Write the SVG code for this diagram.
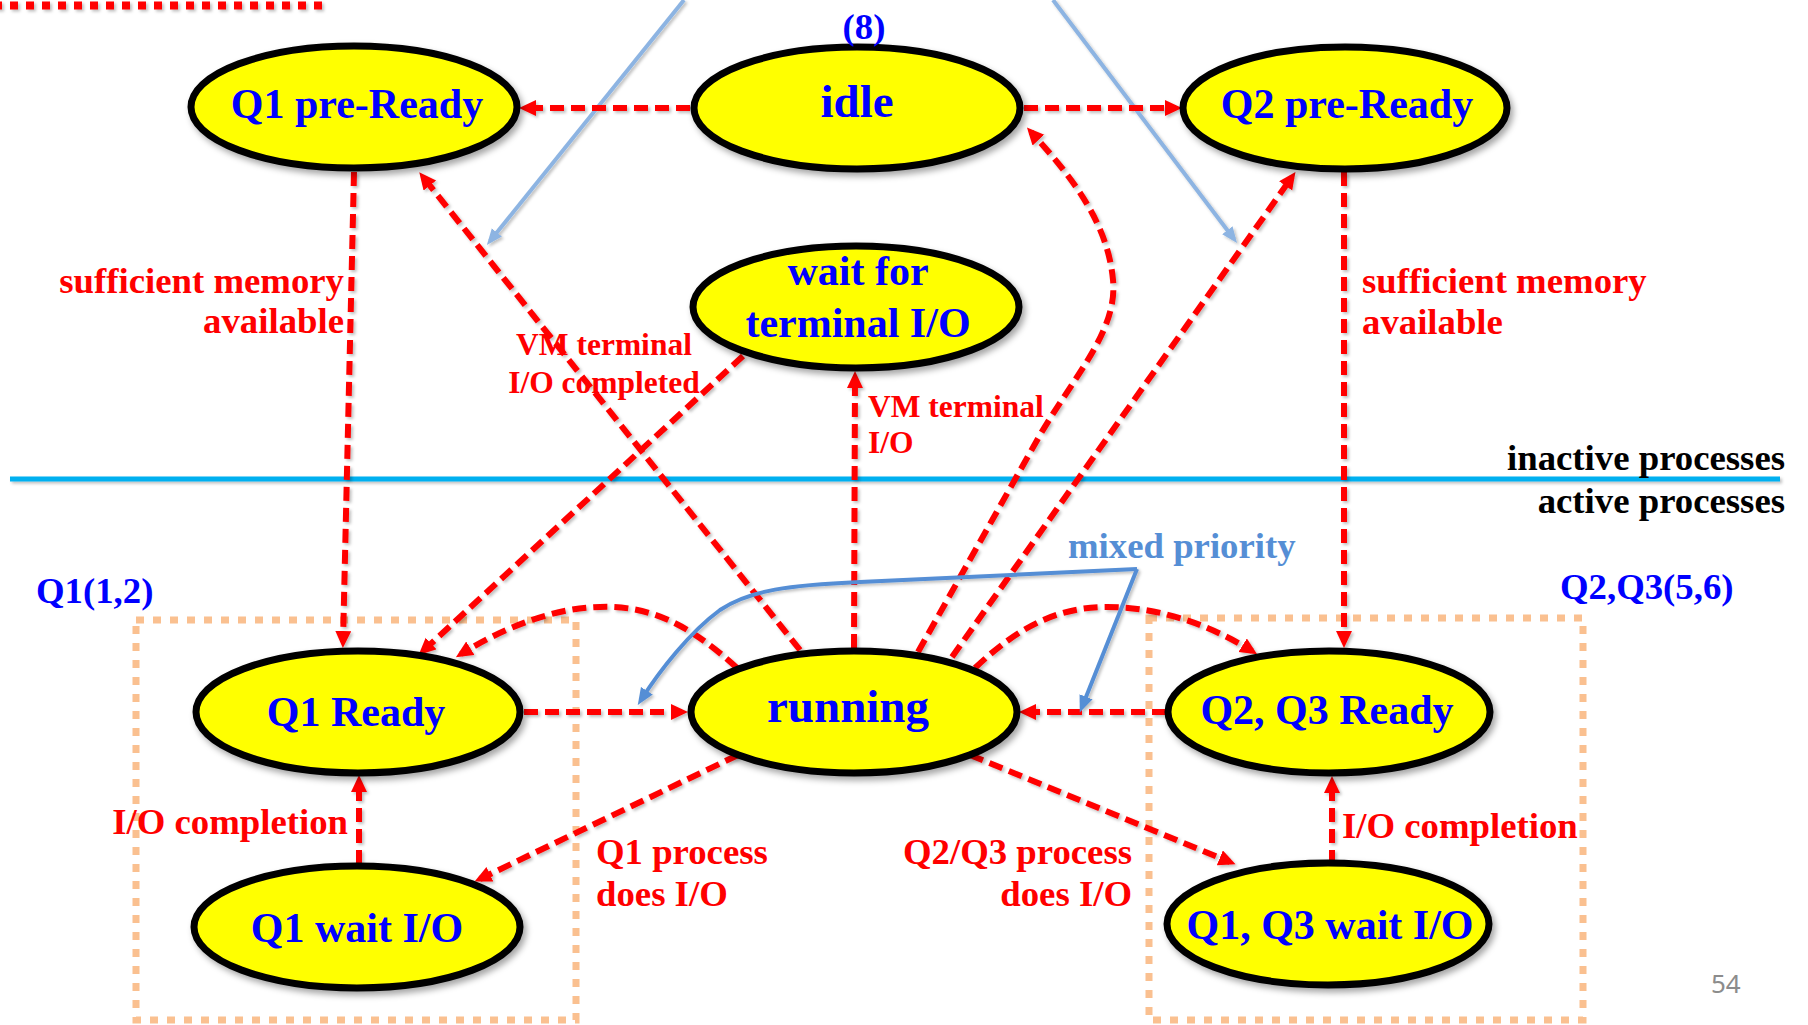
<svg xmlns="http://www.w3.org/2000/svg" width="1808" height="1025" viewBox="0 0 1808 1025">
  <defs>
    <filter id="shadow" x="-20%" y="-20%" width="140%" height="150%">
      <feDropShadow dx="3" dy="4" stdDeviation="3" flood-color="#000" flood-opacity="0.35"/>
    </filter>
    <filter id="lineShadow" filterUnits="userSpaceOnUse" x="-20" y="-20" width="1850" height="1070">
      <feDropShadow dx="2" dy="2" stdDeviation="1.5" flood-color="#000" flood-opacity="0.25"/>
    </filter>
    <marker id="redArrow" markerUnits="userSpaceOnUse" markerWidth="18" markerHeight="17" refX="11" refY="8" orient="auto">
      <path d="M0,0 L17,8 L0,16 z" fill="#ff0000"/>
    </marker>
    <marker id="lightBlueArrow" markerUnits="userSpaceOnUse" markerWidth="18" markerHeight="14" refX="11" refY="6.5" orient="auto">
      <path d="M0,0 L16,6.5 L0,13 z" fill="#8db4e2"/>
    </marker>
    <marker id="blueArrow" markerUnits="userSpaceOnUse" markerWidth="18" markerHeight="15" refX="11" refY="7" orient="auto">
      <path d="M0,0 L17,7 L0,14 z" fill="#558ed5"/>
    </marker>
    <style>
      .node ellipse { fill: #ffff00; stroke: #000; stroke-width: 7; filter: url(#shadow); }
      .node text { font-family: "Liberation Serif", "Times New Roman", serif; font-weight: bold; font-size: 42px; fill: #0000ff; text-anchor: middle; }
      .node text.big { font-size: 47px; }
      .edge { fill: none; stroke: #ff0000; stroke-width: 6; stroke-dasharray: 14 7; }
      .edge.arrow { marker-end: url(#redArrow); }
      .hint { fill: none; stroke: #8db4e2; stroke-width: 4; marker-end: url(#lightBlueArrow); }
      .mix { fill: none; stroke: #558ed5; stroke-width: 4; }
      .lbl { font-family: "Liberation Serif", "Times New Roman", serif; font-weight: bold; font-size: 36.75px; fill: #ff0000; }
      .lbl.small { font-size: 31.5px; }
      .grp { font-family: "Liberation Serif", "Times New Roman", serif; font-weight: bold; font-size: 36.75px; fill: #0000ff; }
      .zone { font-family: "Liberation Serif", "Times New Roman", serif; font-weight: bold; font-size: 36.75px; fill: #000; text-anchor: end; }
      .box { fill: none; stroke: #fac090; stroke-width: 7; stroke-dasharray: 8 9; }
    </style>
  </defs>

  <rect width="1808" height="1025" fill="#ffffff"/>

  <!-- partial red dotted frame edge, top left -->
  <line x1="-6" y1="5.5" x2="322" y2="5.5" stroke="#ff0000" stroke-width="8" stroke-dasharray="8 8" filter="url(#lineShadow)"/>

  <!-- queue group frames -->
  <g id="frames">
    <rect class="box" x="136" y="620" width="440" height="400"/>
    <rect class="box" x="1149" y="618" width="434" height="402"/>
  </g>

  <!-- inactive / active separator -->
  <line x1="10" y1="479" x2="1780" y2="479" stroke="#00b0f0" stroke-width="5" filter="url(#lineShadow)"/>

  <!-- transitions -->
  <g id="connectors" filter="url(#lineShadow)">
    <path class="hint" d="M684,0 L490,241"/>
    <path class="hint" d="M1053,0 L1234,239"/>

    <path class="edge arrow" d="M690,108 L525,108"/>
    <path class="edge arrow" d="M1024,108 L1176,108"/>
    <path class="edge arrow" d="M354,172 L343,642"/>
    <path class="edge arrow" d="M1344,172 L1344,642"/>
    <path class="edge arrow" d="M800,650 L423,177"/>
    <path class="edge arrow" d="M743,356 L423,651"/>
    <path class="edge arrow" d="M854,648 L855,377"/>
    <path class="edge arrow" d="M918,652 L1040,435 C1075,375 1118,330 1113,280 C1108,225 1075,180 1031,132"/>
    <path class="edge arrow" d="M952,657 L1292,177"/>
    <path class="edge arrow" d="M737,668 C690,625 650,605 600,607 C550,608 500,630 461,654"/>
    <path class="edge arrow" d="M975,668 C1020,625 1060,607 1107,607 C1160,607 1210,625 1252,651"/>
    <path class="edge arrow" d="M524,712 L682,712"/>
    <path class="edge arrow" d="M1166,712 L1025,712"/>
    <path class="edge arrow" d="M738,755 L480,879"/>
    <path class="edge arrow" d="M970,755 L1230,862"/>
    <path class="edge arrow" d="M359,864 L359,781"/>
    <path class="edge arrow" d="M1332,864 L1332,782"/>

    <path class="mix" marker-end="url(#blueArrow)" d="M1137,569 L860,582 C790,585 750,590 720,610 C690,632 660,670 641,700"/>
    <path class="mix" marker-end="url(#blueArrow)" d="M1137,569 L1082,707"/>
  </g>

  <!-- states -->
  <g id="q1-pre-ready" class="node">
    <ellipse cx="354" cy="107" rx="163" ry="61"/>
    <text x="357" y="118">Q1 pre-Ready</text>
  </g>
  <g id="idle" class="node">
    <ellipse cx="857" cy="108" rx="163" ry="61"/>
    <text class="big" x="857" y="117">idle</text>
  </g>
  <g id="q2-pre-ready" class="node">
    <ellipse cx="1345" cy="108" rx="162" ry="61"/>
    <text x="1347" y="118">Q2 pre-Ready</text>
  </g>
  <g id="wait-terminal" class="node">
    <ellipse cx="856" cy="307" rx="163" ry="61"/>
    <text x="858" y="285">wait for</text>
    <text x="858" y="337">terminal I/O</text>
  </g>
  <g id="q1-ready" class="node">
    <ellipse cx="358" cy="712" rx="162" ry="61"/>
    <text x="356" y="726">Q1 Ready</text>
  </g>
  <g id="running" class="node">
    <ellipse cx="854" cy="712" rx="163" ry="61"/>
    <text class="big" x="848" y="722">running</text>
  </g>
  <g id="q2q3-ready" class="node">
    <ellipse cx="1329" cy="712" rx="161" ry="61"/>
    <text x="1327" y="724">Q2, Q3 Ready</text>
  </g>
  <g id="q1-wait-io" class="node">
    <ellipse cx="357" cy="927" rx="163" ry="61"/>
    <text x="357" y="942">Q1 wait I/O</text>
  </g>
  <g id="q1q3-wait-io" class="node">
    <ellipse cx="1328" cy="924" rx="161" ry="61"/>
    <text x="1330" y="939">Q1, Q3 wait I/O</text>
  </g>

  <!-- transition labels -->
  <g id="labels">
    <text class="lbl" x="344" y="293" text-anchor="end">sufficient memory</text>
    <text class="lbl" x="344" y="333" text-anchor="end">available</text>
    <text class="lbl" x="1362" y="293">sufficient memory</text>
    <text class="lbl" x="1362" y="334">available</text>
    <text class="lbl small" x="604" y="355" text-anchor="middle">VM terminal</text>
    <text class="lbl small" x="604" y="393" text-anchor="middle">I/O completed</text>
    <text class="lbl small" x="868" y="417">VM terminal</text>
    <text class="lbl small" x="868" y="453">I/O</text>
    <text class="lbl" x="348" y="834" text-anchor="end">I/O completion</text>
    <text class="lbl" x="1342" y="838">I/O completion</text>
    <text class="lbl" x="596" y="864">Q1 process</text>
    <text class="lbl" x="596" y="906">does I/O</text>
    <text class="lbl" x="1132" y="864" text-anchor="end">Q2/Q3 process</text>
    <text class="lbl" x="1132" y="906" text-anchor="end">does I/O</text>
    <text x="1068" y="558" font-family="Liberation Serif, Times New Roman, serif" font-weight="bold" font-size="36.75" fill="#558ed5">mixed priority</text>
  </g>

  <!-- group / region captions -->
  <g id="captions">
    <text class="grp" x="864" y="39" text-anchor="middle">(8)</text>
    <text class="grp" x="36" y="603">Q1(1,2)</text>
    <text class="grp" x="1560" y="599">Q2,Q3(5,6)</text>
    <text class="zone" x="1785" y="470">inactive processes</text>
    <text class="zone" x="1785" y="513">active processes</text>
    <text x="1711" y="993" font-family="Noto Sans, Open Sans, sans-serif" font-size="26" fill="#8c8c8c">54</text>
  </g>
</svg>
